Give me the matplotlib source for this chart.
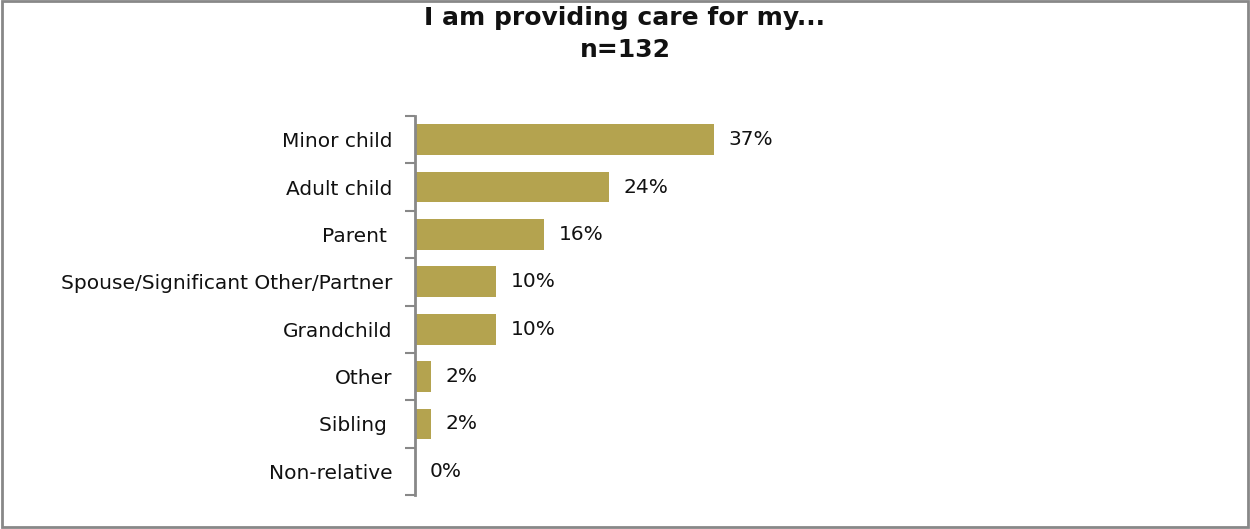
import matplotlib
matplotlib.use("Agg")
import matplotlib.pyplot as plt
from matplotlib.patches import Rectangle

categories = ["Minor child", "Adult child", "Parent ", "Spouse/Significant Other/Partner",
              "Grandchild", "Other", "Sibling ", "Non-relative"]
percents = [37, 24, 16, 10, 10, 2, 2, 0]

title = "I am providing care for my...\nn=132"
bar_color = "#B4A34F"

plt.rcParams['font.family'] = ['DejaVu Sans']

W, H = 1250, 529
fig = plt.figure(figsize=(W / 100, H / 100), dpi=100)

# axes placed in pixel terms: spine at x=415, rows from y=116 to y=495
left, right = 415, 1200
top, bottom = 116, 495
ax = fig.add_axes([left / W, 1 - bottom / H, (right - left) / W, (bottom - top) / H])

ypos = list(range(len(categories)))
ax.barh(ypos, percents, height=0.65, color=bar_color)
ax.set_ylim(len(categories) - 0.5, -0.5)
ax.set_xlim(0, (right - left) / 8.08)

for y, v in zip(ypos, percents):
    ax.text(v + 1.8, y, f"{v}%", va="center", ha="left", fontsize=14.5, color="#111111")

ax.set_yticks(ypos)
ax.set_yticklabels(categories, fontsize=14.5, color="#111111")
ax.set_yticks([i - 0.5 for i in range(len(categories) + 1)], minor=True)
ax.tick_params(axis="y", which="major", length=0, pad=16)
ax.tick_params(axis="y", which="minor", length=7, width=1.5, color="#888888")
ax.set_xticks([])
for s in ["top", "right", "bottom"]:
    ax.spines[s].set_visible(False)
ax.spines["left"].set_color("#888888")
ax.spines["left"].set_linewidth(2)

fig.text(0.5, 1 - 34 / H, title, ha="center", va="center", fontsize=18,
         fontweight="bold", linespacing=1.45, color="#111111")

# outer border
fig.patches.append(Rectangle((2 / W, 2 / H), 1 - 4 / W, 1 - 3 / H, transform=fig.transFigure,
                             fill=False, edgecolor="#888888", linewidth=2))

fig.savefig("out.png", dpi=100, facecolor="white")
